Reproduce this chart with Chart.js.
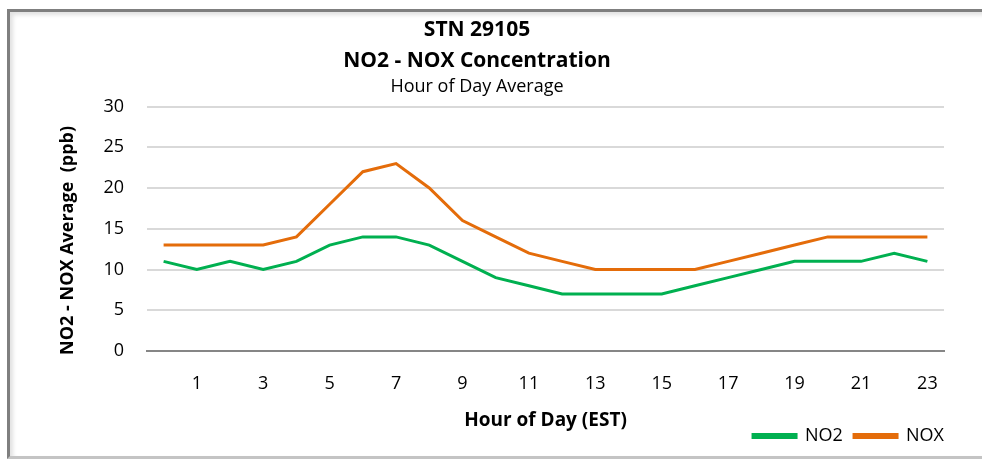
<!DOCTYPE html>
<html>
<head>
<meta charset="utf-8">
<script src="https://cdn.jsdelivr.net/npm/chart.js@4.4.1/dist/chart.umd.min.js"></script>
<style>
  html, body { margin: 0; padding: 0; background: #fff; }
  #wrap { position: relative; width: 982px; height: 462px; overflow: hidden; }
  #frame {
    position: absolute; left: 7px; top: 9px; width: 990px; height: 444px;
    border-left: 3px solid #7f7f7f; border-top: 3px solid #7f7f7f;
    border-bottom: 3px solid #c4c4c4;
    box-shadow: inset 3px 3px 4px rgba(0,0,0,0.12);
  }
  #c { position: absolute; left: 0; top: 0; }
</style>
</head>
<body>
<div id="wrap">
  <div id="frame"></div>
  <canvas id="c" width="982" height="462"></canvas>
</div>
<script>
// Hour of day average, STN 29105
var hours = ['0', '1', '2', '3', '4', '5', '6', '7', '8', '9', '10', '11',
             '12', '13', '14', '15', '16', '17', '18', '19', '20', '21', '22', '23'];
var no2 = [11, 10, 11, 10, 11, 13, 14, 14, 13, 11, 9, 8, 7, 7, 7, 7, 8, 9, 10, 11, 11, 11, 12, 11];
var nox = [13, 13, 13, 13, 14, 18, 22, 23, 20, 16, 14, 12, 11, 10, 10, 10, 10, 11, 12, 13, 14, 14, 14, 14];
var yTicks = [0, 5, 10, 15, 20, 25, 30];

var font = '"Open Sans", "DejaVu Sans", sans-serif';
Chart.defaults.font.family = font;
Chart.defaults.color = '#000';

var ctx = document.getElementById('c').getContext('2d');
var chart = new Chart(ctx, {
    type: 'line',
    data: {
        labels: hours,
        datasets: [{
            label: 'NO2',
            data: no2,
            borderColor: '#00b050',
            backgroundColor: '#00b050',
            borderWidth: 3,
            pointRadius: 0,
            tension: 0
        }, {
            label: 'NOX',
            data: nox,
            borderColor: '#e46c0a',
            backgroundColor: '#e46c0a',
            borderWidth: 3,
            pointRadius: 0,
            tension: 0
        }]
    },
    options: {
        responsive: false,
        animation: false,
        layout: { padding: { left: 10, right: 38, top: 13, bottom: 7 } },
        plugins: {
            title: {
                display: true,
                text: ['STN 29105', 'NO2 - NOX Concentration'],
                font: { size: 21, weight: 'bold', lineHeight: 1.45 },
                padding: { top: 2, bottom: 0 }
            },
            subtitle: {
                display: true,
                text: 'Hour of Day Average',
                font: { size: 18, lineHeight: 1.2 },
                padding: { top: 0, bottom: 9 }
            },
            legend: {
                position: 'bottom',
                align: 'end',
                labels: {
                    boxWidth: 43,
                    boxHeight: 3,
                    padding: 0,
                    font: { size: 18 },
                    generateLabels: function (c) {
                        var items = Chart.defaults.plugins.legend.labels.generateLabels(c);
                        items.forEach(function (it, i) {
                            if (i < items.length - 1) it.text = it.text + '  \u200A';
                        });
                        return items;
                    }
                }
            },
            tooltip: { enabled: false }
        },
        scales: {
            x: {
                offset: true,
                grid: { display: false },
                border: { color: '#868686', width: 2 },
                ticks: {
                    autoSkip: false,
                    maxRotation: 0,
                    padding: 14,
                    font: { size: 18 },
                    callback: function (v, i) { return i % 2 === 1 ? hours[i] : ''; }
                },
                title: {
                    display: true,
                    text: 'Hour of Day (EST)',
                    font: { size: 19, weight: 'bold' },
                    padding: { top: 4, bottom: -5 }
                },
                afterFit: function (scale) { scale.height = 76; }
            },
            y: {
                min: 0,
                max: 30,
                afterBuildTicks: function (scale) {
                    scale.ticks = yTicks.map(function (v) { return { value: v }; });
                },
                grid: { color: '#d9d9d9', lineWidth: 2, drawTicks: false },
                border: { display: false },
                ticks: { padding: 23, font: { size: 18 } },
                title: {
                    display: true,
                    text: 'NO2 - NOX Average  (ppb)     ',
                    font: { size: 18, weight: 'bold' },
                    padding: { top: 47, bottom: 0 }
                },
                afterFit: function (scale) { scale.width = 137; }
            }
        }
    }
});
</script>
</body>
</html>
